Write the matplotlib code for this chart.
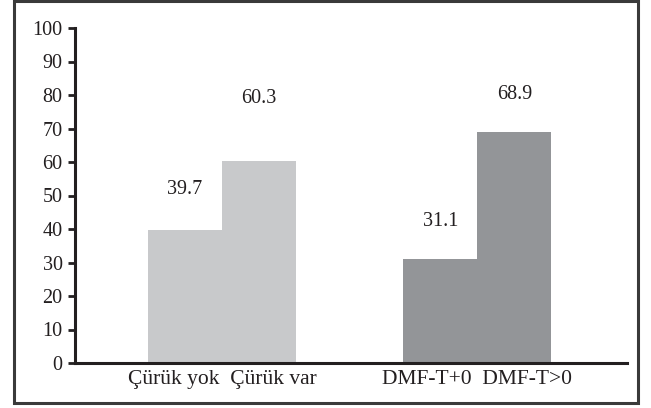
import numpy as np
import matplotlib
matplotlib.use("Agg")
import matplotlib.pyplot as plt
from matplotlib.patches import Rectangle

# ---------------------------------------------
# DATA
# ---------------------------------------------

groups = [
    ["Çürük yok", "Çürük var"],
    ["DMF-T+0", "DMF-T>0"],
]

values = [
    [39.7, 60.3],
    [31.1, 68.9],
]

y_ticks = [0, 10, 20, 30, 40, 50, 60, 70, 80, 90, 100]

# ---------------------------------------------
# STYLE
# ---------------------------------------------

plt.rcParams["font.family"] = ["Liberation Serif", "DejaVu Serif"]

group_colors = ["#c8c9cb", "#939598"]
text_color = "#231f20"
group_x = [0.0, 3.45]          # centre of first bar in each group
label_offsets = [[29, 45], [27, 27]]   # value label height above bar, points

fig = plt.figure(figsize=(6.51, 4.08), dpi=100)

# outer frame
fig.patches.append(
    Rectangle(
        (14 / 651, 5 / 408),
        624 / 651,
        402 / 408,
        transform=fig.transFigure,
        fill=False,
        edgecolor="#3a3a3a",
        linewidth=2.2,
    )
)

ax = fig.add_axes([75 / 651, 45 / 408, 552 / 651, 335 / 408])

tick_pos = []
tick_text = []

for g, (names, vals) in enumerate(zip(groups, values)):
    xs = group_x[g] + np.arange(len(vals))
    ax.bar(
        xs,
        vals,
        width=1.0,
        color=group_colors[g],
        edgecolor="none",
    )
    for x, v, off in zip(xs, vals, label_offsets[g]):
        ax.annotate(
            f"{v:.1f}",
            xy=(x, v),
            xytext=(0, off),
            textcoords="offset points",
            ha="center",
            va="center",
            fontsize=14.5,
            color=text_color,
        )
    tick_pos.append(xs.mean())
    tick_text.append("  ".join(names))

ax.set_xlim(-1.486, 5.97)
ax.set_ylim(0, 100)

ax.set_yticks(y_ticks)
ax.set_yticklabels([str(t) for t in y_ticks])

ax.set_xticks(tick_pos)
ax.set_xticklabels(tick_text)

ax.tick_params(
    axis="y",
    direction="out",
    length=5,
    width=2,
    pad=4,
    labelsize=14.5,
    labelcolor=text_color,
    color=text_color,
)
ax.tick_params(
    axis="x",
    length=0,
    pad=5,
    labelsize=15.5,
    labelcolor=text_color,
)

for side in ["top", "right"]:
    ax.spines[side].set_visible(False)

for side in ["left", "bottom"]:
    ax.spines[side].set_linewidth(2.2)
    ax.spines[side].set_color(text_color)

fig.savefig("out.png", dpi=100)
plt.close(fig)
